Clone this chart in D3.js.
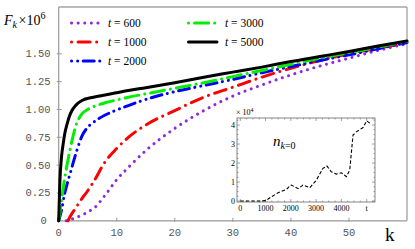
<!DOCTYPE html>
<html lang="en">
<head>
    <meta charset="UTF-8">
    <title>F_k curves</title>
    <script src="https://d3js.org/d3.v7.min.js"></script>
    <style>
        body, html {
            margin: 0;
            background: #fff;
        }
        .tick-main {
            font-family: 'Liberation Mono', monospace;
            font-size: 10.5px;
            fill: #555;
        }
        .serif {
            font-family: 'Liberation Serif', serif;
        }
    </style>
</head>
<body>
<script>
    // main curves: F_k (x 10^6) vs k, one per time t
    const k600 = [1.3, 2, 3, 4, 5, 6, 8, 10, 12, 15, 20, 25, 30, 35, 40, 45, 50, 55, 60];
    const f600 = [0, 0.01, 0.03, 0.05, 0.08, 0.11, 0.23, 0.37, 0.48, 0.63, 0.83, 0.99, 1.12, 1.22, 1.31, 1.39, 1.46, 1.53, 1.59];
    const k1000 = [1.6, 2, 3, 4, 5, 6, 8, 10, 12, 15, 20, 25, 30, 35, 40, 45, 50, 55, 60];
    const f1000 = [0, 0.04, 0.12, 0.20, 0.27, 0.35, 0.53, 0.65, 0.75, 0.86, 0.99, 1.11, 1.20, 1.29, 1.37, 1.44, 1.50, 1.55, 1.60];
    const k2000 = [0, 0.5, 1, 1.5, 2, 3, 4, 5, 6, 8, 10, 12, 15, 20, 25, 30, 35, 40, 45, 50, 55, 60];
    const f2000 = [0, 0.1, 0.24, 0.34, 0.43, 0.61, 0.76, 0.84, 0.885, 0.95, 0.995, 1.035, 1.09, 1.16, 1.215, 1.27, 1.33, 1.385, 1.44, 1.49, 1.545, 1.60];
    const k3000 = [0, 0.5, 1, 1.5, 2, 3, 4, 5, 6, 8, 10, 12, 15, 20, 25, 30, 35, 40, 45, 50, 55, 60];
    const f3000 = [0, 0.19, 0.37, 0.52, 0.65, 0.86, 0.96, 1.0, 1.025, 1.06, 1.085, 1.11, 1.14, 1.19, 1.24, 1.295, 1.35, 1.405, 1.46, 1.51, 1.56, 1.61];
    const k5000 = [0, 0.2, 0.5, 0.8, 1, 1.5, 2, 3, 4, 6, 8, 10, 12, 15, 20, 25, 30, 35, 40, 45, 50, 55, 60];
    const f5000 = [0, 0.35, 0.58, 0.70, 0.77, 0.88, 0.96, 1.04, 1.08, 1.11, 1.13, 1.15, 1.17, 1.195, 1.24, 1.29, 1.335, 1.38, 1.43, 1.475, 1.52, 1.57, 1.615];

    const yTicks = [0, 0.25, 0.5, 0.75, 1.0, 1.25, 1.5];
    const xTicks = [0, 10, 20, 30, 40, 50];

    // inset: n_{k=0} (x 10^4) vs t
    const tInset = [0, 200, 400, 600, 800, 1000, 1200, 1500, 1830, 1960, 2020, 2290, 2480, 2750, 3010, 3270, 3430, 3600, 3800, 4000, 4200, 4330, 4460, 4590, 4860, 5000, 5190];
    const nInset = [0, 0, 0, 0, 0, 0.02, 0.2, 0.44, 0.61, 0.79, 0.84, 0.65, 0.84, 0.70, 1.1, 1.72, 1.84, 1.54, 1.42, 1.49, 1.28, 1.63, 3.47, 3.64, 3.87, 4.22, 4.04];
    const insetXTicks = [0, 1000, 2000, 3000, 4000, 5000];
    const insetXLabels = ["0", "1000", "2000", "3000", "4000", "t"];
    const insetYTicks = [0, 1, 2, 3, 4];

    const series = [
        {label: "600", k: k600, f: f600, color: "#8a2be2", dash: "0.1 6.5", off: 0},
        {label: "1000", k: k1000, f: f1000, color: "#ff0000", dash: "12 6.5 0.1 6.5", off: 18.5},
        {label: "2000", k: k2000, f: f2000, color: "#0000ff", dash: "11 5.5 0.1 6 0.1 5.5", off: 16.5},
        {label: "3000", k: k3000, f: f3000, color: "#00ee00", dash: "14 6 0.1 6", off: 20},
        {label: "5000", k: k5000, f: f5000, color: "#000000", dash: null, off: 0}
    ];

    const width = 415, height = 249;
    const svg = d3.select("body").append("svg")
        .attr("width", width)
        .attr("height", height);

    const x = d3.scaleLinear().domain([0, 60]).range([58.7, 407]);
    const y = d3.scaleLinear().domain([0, 1.92]).range([220.8, 7]);

    // frame
    svg.append("line").attr("x1", x(0)).attr("x2", x(60)).attr("y1", y(1.92)).attr("y2", y(1.92))
        .attr("stroke", "#bbb").attr("stroke-width", 2);
    svg.append("line").attr("x1", x(60)).attr("x2", x(60)).attr("y1", y(1.92)).attr("y2", y(0))
        .attr("stroke", "#999").attr("stroke-width", 1.2);
    svg.append("line").attr("x1", x(0)).attr("x2", x(60)).attr("y1", y(0)).attr("y2", y(0))
        .attr("stroke", "#999").attr("stroke-width", 1.2);
    svg.append("line").attr("x1", x(0)).attr("x2", x(0)).attr("y1", y(1.92)).attr("y2", y(0))
        .attr("stroke", "#999").attr("stroke-width", 1.2);

    // ticks
    svg.append("g").selectAll("line").data(yTicks.slice(1)).join("line")
        .attr("x1", x(0) - 2).attr("x2", x(0) + 3)
        .attr("y1", d => y(d)).attr("y2", d => y(d))
        .attr("stroke", "#999");
    svg.append("g").selectAll("text").data(yTicks).join("text")
        .attr("class", "tick-main")
        .attr("x", d => d === 0 ? x(0) - 12 : x(0) - 8)
        .attr("y", d => y(d) + 3.5)
        .attr("text-anchor", "end")
        .text(d => d === 0 ? "0" : d3.format(".2f")(d));
    svg.append("g").selectAll("line").data(xTicks.slice(1)).join("line")
        .attr("x1", d => x(d)).attr("x2", d => x(d))
        .attr("y1", y(0) - 3).attr("y2", y(0) + 1)
        .attr("stroke", "#999");
    svg.append("g").selectAll("text").data(xTicks).join("text")
        .attr("class", "tick-main")
        .attr("x", d => x(d))
        .attr("y", 236)
        .attr("text-anchor", "middle")
        .text(d => d);

    // curves
    const line = d3.line()
        .x(d => x(d[0]))
        .y(d => y(d[1]))
        .curve(d3.curveMonotoneX);

    svg.append("g").selectAll("path").data(series).join("path")
        .attr("d", s => line(d3.zip(s.k, s.f)))
        .attr("fill", "none")
        .attr("stroke", s => s.color)
        .attr("stroke-width", 3)
        .attr("stroke-linecap", "round")
        .attr("stroke-dasharray", s => s.dash);

    // legend
    const legendPos = [[70, 23], [70, 42], [70, 61], [187, 23], [187, 42]];
    const legend = svg.append("g").selectAll("g").data(series).join("g")
        .attr("transform", (s, i) => `translate(${legendPos[i][0]},${legendPos[i][1]})`);
    legend.append("line")
        .attr("x1", 1.5).attr("x2", 30).attr("y1", 0).attr("y2", 0)
        .attr("stroke", s => s.color)
        .attr("stroke-width", 3)
        .attr("stroke-linecap", "round")
        .attr("stroke-dasharray", s => s.dash)
        .attr("stroke-dashoffset", s => s.off);
    const lt = legend.append("text")
        .attr("class", "serif")
        .attr("x", 38).attr("y", 4)
        .attr("font-size", 11.5);
    lt.append("tspan").attr("font-style", "italic").text("t");
    lt.append("tspan").text(s => " = " + s.label);

    // axis titles
    const fy = svg.append("text").attr("class", "serif").attr("x", 4).attr("y", 25).attr("font-size", 14);
    fy.append("tspan").attr("font-style", "italic").text("F");
    fy.append("tspan").attr("font-style", "italic").attr("font-size", 10).attr("dy", 3).text("k");
    fy.append("tspan").attr("dy", -3).attr("dx", 1.5).text("\u00d710");
    fy.append("tspan").attr("font-size", 10).attr("dy", -6).text("6");
    svg.append("text").attr("class", "serif").attr("x", 385).attr("y", 241).attr("font-size", 19).text("k");

    // inset
    const ix = d3.scaleLinear().domain([-130, 5330]).range([237, 375]);
    const iy = d3.scaleLinear().domain([-0.05, 4.37]).range([202, 118]);
    const inset = svg.append("g");
    inset.append("rect")
        .attr("x", ix.range()[0]).attr("y", iy.range()[1])
        .attr("width", ix.range()[1] - ix.range()[0])
        .attr("height", iy.range()[0] - iy.range()[1])
        .attr("fill", "#fff").attr("stroke", "#666").attr("stroke-width", 0.8);

    const minorX = d3.range(0, 5300, 250);
    const minorY = d3.range(0, 4.3, 0.25);
    [iy.range()[0], iy.range()[1]].forEach((yy, j) => {
        const dir = j === 0 ? -1 : 1;
        inset.append("g").selectAll("line").data(minorX).join("line")
            .attr("x1", d => ix(d)).attr("x2", d => ix(d))
            .attr("y1", yy).attr("y2", d => yy + dir * (d % 1000 === 0 ? 3 : 1.5))
            .attr("stroke", "#666").attr("stroke-width", 0.6);
    });
    [ix.range()[0], ix.range()[1]].forEach((xx, j) => {
        const dir = j === 0 ? 1 : -1;
        inset.append("g").selectAll("line").data(minorY).join("line")
            .attr("y1", d => iy(d)).attr("y2", d => iy(d))
            .attr("x1", xx).attr("x2", d => xx + dir * (Number.isInteger(d) ? 3 : 1.5))
            .attr("stroke", "#666").attr("stroke-width", 0.6);
    });
    inset.append("g").selectAll("text").data(insetXTicks).join("text")
        .attr("class", "serif")
        .attr("x", d => ix(d)).attr("y", 211)
        .attr("text-anchor", "middle")
        .attr("font-size", 8)
        .text((d, i) => insetXLabels[i]);
    inset.append("g").selectAll("text").data(insetYTicks).join("text")
        .attr("class", "serif")
        .attr("x", ix.range()[0] - 2).attr("y", d => iy(d) + 3)
        .attr("text-anchor", "end")
        .attr("font-size", 8)
        .text(d => d);

    const sc = inset.append("text").attr("class", "serif").attr("x", 236).attr("y", 115).attr("font-size", 8);
    sc.append("tspan").text("\u00d7 10");
    sc.append("tspan").attr("font-size", 6).attr("dy", -3).text("4");

    const nl = inset.append("text").attr("class", "serif").attr("x", 273).attr("y", 146).attr("font-size", 15);
    nl.append("tspan").attr("font-style", "italic").text("n");
    const sub = nl.append("tspan").attr("font-size", 10).attr("dy", 3);
    sub.append("tspan").attr("font-style", "italic").text("k");
    sub.append("tspan").text("=0");

    inset.append("path")
        .attr("d", d3.line().x(d => ix(d[0])).y(d => iy(d[1]))(d3.zip(tInset, nInset)))
        .attr("fill", "none")
        .attr("stroke", "#000")
        .attr("stroke-width", 1.1)
        .attr("stroke-dasharray", "3.5 2");
</script>
</body>
</html>
